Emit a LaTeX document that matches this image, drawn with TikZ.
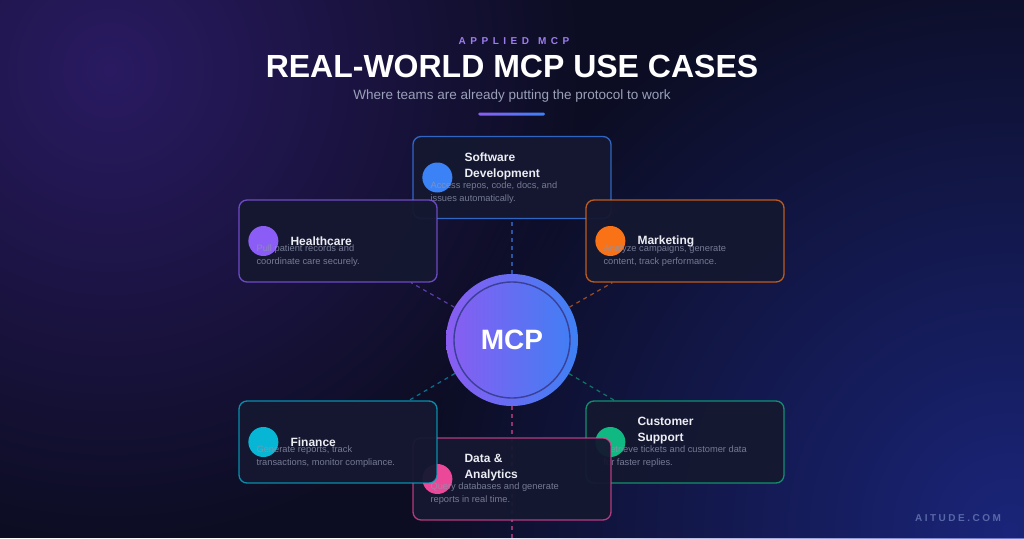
\documentclass[tikz,border=0pt]{standalone}
\usepackage{fontspec}
\setmainfont{Liberation Sans}
\usetikzlibrary{positioning, calc, fadings}

\definecolor{bgnavy}{HTML}{0C0D22}
\definecolor{glowpurple}{HTML}{3A2284}
\definecolor{glowblue}{HTML}{2232A8}
\definecolor{cardfill}{HTML}{151830}
\definecolor{cblue}{HTML}{3B82F6}
\definecolor{cpurple}{HTML}{8B5CF6}
\definecolor{corange}{HTML}{F97316}
\definecolor{cgreen}{HTML}{10B981}
\definecolor{cpink}{HTML}{EC4899}
\definecolor{ccyan}{HTML}{06B6D4}
\definecolor{kicker}{HTML}{9D7DF0}
\definecolor{subgray}{HTML}{9AA0B8}
\definecolor{descgray}{HTML}{8E93AD}
\definecolor{titlewhite}{HTML}{ECEEF4}
\definecolor{mcpleft}{HTML}{8A5CF2}
\definecolor{mcpright}{HTML}{3E80F4}
\definecolor{mcpring}{HTML}{3B3F96}
\definecolor{brand}{HTML}{5868A8}

\tikzfading[name=glowfade, inner color=transparent!35, outer color=transparent!100]

\pgfdeclarelayer{back}
\pgfdeclarelayer{links}
\pgfsetlayers{back,links,main}

\begin{document}
\begin{tikzpicture}[x=1pt, y=-1pt,
    card/.style={draw=#1, draw opacity=0.75, line width=1.3pt, rounded corners=8pt,
      fill=cardfill, fill opacity=0.95, minimum width=198pt, minimum height=82pt, inner sep=0pt},
    icon/.style={circle, fill=#1, minimum size=30pt, inner sep=0pt},
    cardtitle/.style={font=\bfseries\fontsize{12}{16}\selectfont, text=titlewhite,
      align=left, anchor=west, inner sep=0pt},
    carddesc/.style={font=\fontsize{9.3}{12.8}\selectfont, text=descgray, text opacity=0.8,
      align=left, anchor=north west, inner sep=0pt},
    link/.style={draw=#1, draw opacity=0.6, line width=1.2pt, dash pattern=on 4pt off 4pt}]
  \useasboundingbox (0,0) rectangle (1024,538);

  % backdrop
  \begin{pgfonlayer}{back}
    \fill[bgnavy] (0,0) rectangle (1024,538);
    \fill[glowpurple, path fading=glowfade] (110,70) circle (480);
    \fill[glowblue, path fading=glowfade] (1010,530) circle (600);
  \end{pgfonlayer}

  % heading
  \node[font=\bfseries\fontsize{10}{12}\selectfont\addfontfeatures{LetterSpace=45}, text=kicker]
    (kick) at (514,41) {APPLIED\hspace{9pt}MCP};
  \node[font=\bfseries\fontsize{32}{36}\selectfont, text=white] (headline) at (512,66)
    {REAL-WORLD MCP USE CASES};
  \node[font=\fontsize{13.5}{16}\selectfont, text=subgray] (subline) at (512,96)
    {Where teams are already putting the protocol to work};
  \shade[left color=cpurple, right color=cblue, rounded corners=1.5pt]
    (478,112.5) rectangle (545,115.5);

  % use case cards
  \foreach \n/\x/\y/\col/\ty/\ttl/\desc in {
      soft/512/177.5/cblue/-11.5/{Software\\Development}/{Access repos, code, docs, and\\issues automatically.},
      health/338/241/cpurple/0/{Healthcare}/{Pull patient records and\\coordinate care securely.},
      market/685/241/corange/0/{Marketing}/{Analyze campaigns, generate\\content, track performance.},
      support/685/442/cgreen/-11.5/{Customer\\Support}/{Retrieve tickets and customer data\\for faster replies.},
      data/512/479/cpink/-11.5/{Data \&\\Analytics}/{Query databases and generate\\reports in real time.},
      finance/338/442/ccyan/0/{Finance}/{Generate reports, track\\transactions, monitor compliance.}} {
    \node[card=\col] (\n) at (\x,\y) {};
    \node[icon=\col] (\n-icon) at ($(\n.west)+(25,0)$) {};
    \node[cardtitle] (\n-title) at ($(\n.west)+(52,\ty)$) {\ttl};
    \node[carddesc] (\n-desc) at ($(\n.west)+(18,4)$) {\desc};
  }

  % hub
  \node[circle, minimum size=132pt, inner sep=0pt, left color=mcpleft, right color=mcpright,
    font=\bfseries\fontsize{28}{30}\selectfont, text=white] (mcp) at (512,340) {MCP};
  \draw[mcpring, line width=1.4pt] (mcp.center) circle (58);
  \coordinate (tail) at (512,545);

  \begin{pgfonlayer}{links}
    \foreach \n/\col in {soft/cblue, health/cpurple, market/corange, support/cgreen, finance/ccyan}
      \draw[link=\col] (mcp) -- (\n);
    \draw[link=cpink] (mcp) -- (tail);
  \end{pgfonlayer}

  \node[font=\bfseries\fontsize{10}{12}\selectfont\addfontfeatures{LetterSpace=25}, text=brand]
    (brandmark) at (958,518) {AITUDE.COM};
\end{tikzpicture}
\end{document}
